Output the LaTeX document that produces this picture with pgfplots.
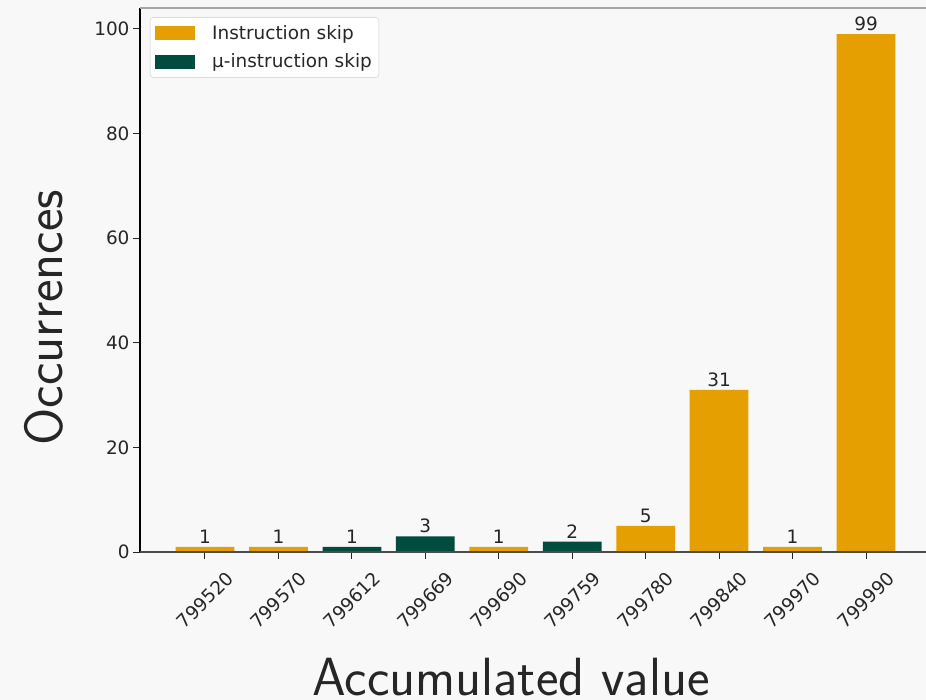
\documentclass[border=0pt]{standalone}
\usepackage{fontspec}
\setmainfont{DejaVu Sans}
\usepackage{pgfplots}
\pgfplotsset{compat=1.18}
\definecolor{bg}{HTML}{F8F8F8}
\definecolor{orng}{HTML}{E69F00}
\definecolor{dgreen}{HTML}{004D40}
\definecolor{txt}{HTML}{262626}
\pgfplotsset{mylegend/.style={legend image code/.code={\fill[##1, sharp corners] (0bp,-7bp) rectangle (40bp,7bp);}}}
\begin{document}
\begin{tikzpicture}
\useasboundingbox (-140bp,-148bp) rectangle (786bp,552bp);
\fill[bg] (-140bp,-148bp) rectangle (786bp,552bp);
\begin{axis}[
  scale only axis, width=786bp, height=544bp,
  anchor=south west, at={(0,0)},
  xmin=-0.885, xmax=9.817, ymin=0, ymax=104,
  ybar, bar width=0.8, bar shift=0pt,
  axis line style={draw=none},
  xtick={0,...,9},
  xticklabels={799520,799570,799612,799669,799690,799759,799780,799840,799970,799990},
  ytick={0,20,...,100},
  xtick pos=left, ytick pos=left,
  tick align=outside, major tick length=7bp,
  tick style={black!85, line width=1bp},
  ticklabel style={font=\fontsize{18.5}{21}\selectfont, text=txt},
  /pgf/number format/assume math mode=true,
  xticklabel style={rotate=45, anchor=center},
  xticklabel shift=41bp,
  nodes near coords,
  nodes near coords style={font=\fontsize{18.5}{21}\selectfont, text=txt},
  xlabel={Accumulated value},
  ylabel={Occurrences},
  xlabel style={at={(axis description cs:0.472,-0.2645)}, anchor=base, font=\sffamily\fontsize{54}{56}\selectfont, text=txt},
  ylabel style={at={(axis description cs:-0.0992,0.431)}, anchor=base, rotate=0, font=\sffamily\fontsize{54}{56}\selectfont, text=txt},
  legend style={at={(axis description cs:0.0127,0.983)}, anchor=north west, draw=black!20, rounded corners=3bp, fill=white, font=\fontsize{18.5}{21}\selectfont, text=txt, inner xsep=5bp, inner ysep=6bp, row sep=9bp, column sep=15bp},
  legend cell align=left,
]
\addplot[fill=orng, draw=none, mylegend] coordinates {(0,1)(1,1)(4,1)(6,5)(7,31)(8,1)(9,99)};
\addplot[fill=dgreen, draw=none, mylegend] coordinates {(2,1)(3,3)(5,2)};
\legend{Instruction skip, µ-instruction skip}
\end{axis}
\draw[black, line width=1.2bp] (0,0) -- (0,544bp);
\draw[black!70, line width=1.2bp] (0,0) -- (786bp,0);
\draw[gray!70, line width=1.5bp] (0,544bp) -- (786bp,544bp);
\end{tikzpicture}
\end{document}
